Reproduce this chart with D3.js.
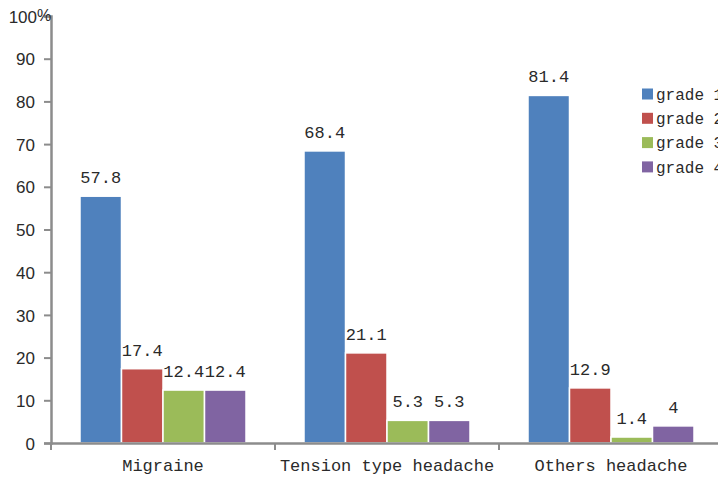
<!DOCTYPE html>
<html>
<head>
<meta charset="utf-8">
<script src="https://cdn.jsdelivr.net/npm/d3@7"></script>
<style>
  html, body { margin: 0; padding: 0; background: #fff; }
  svg { display: block; }
</style>
</head>
<body>
<svg id="chart" width="718" height="478"></svg>
<script>
// Headache types and grade shares (%)
const categories = ["Migraine", "Tension type headache", "Others headache"];
const grades = ["grade 1", "grade 2", "grade 3", "grade 4"];
const grade1 = [57.8, 68.4, 81.4];
const grade2 = [17.4, 21.1, 12.9];
const grade3 = [12.4, 5.3, 1.4];
const grade4 = [12.4, 5.3, 4];
const yTicks = [0, 10, 20, 30, 40, 50, 60, 70, 80, 90, 100];
const colors = ["#4F81BD", "#C0504D", "#9BBB59", "#8064A2"];

const series = [grade1, grade2, grade3, grade4];
const rows = categories.map((c, i) => ({
  category: c,
  values: grades.map((g, j) => ({ grade: g, value: series[j][i], idx: j }))
}));

const svg = d3.select("#chart");
const monoFont = "'Liberation Mono', 'DejaVu Sans Mono', monospace";
const sansFont = "'Liberation Sans', Arial, sans-serif";
const textColor = "#2a2a2a";

const x0 = d3.scaleBand().domain(categories).range([51, 723]).paddingInner(0).paddingOuter(0);
const x1 = d3.scaleBand().domain(grades).range([29, x0.bandwidth() - 29]).padding(0);
const y = d3.scaleLinear().domain([0, 100]).range([443, 16]);

// Bars
const groups = svg.selectAll("g.group").data(rows).join("g")
  .attr("class", "group")
  .attr("transform", d => `translate(${x0(d.category)},0)`);

groups.selectAll("rect").data(d => d.values).join("rect")
  .attr("x", d => x1(d.grade))
  .attr("y", d => y(d.value))
  .attr("width", x1.bandwidth())
  .attr("height", d => y(0) - y(d.value))
  .attr("fill", d => colors[d.idx])
  .attr("stroke", "#fff")
  .attr("stroke-width", 1.5);

// Value labels
groups.selectAll("text.val").data(d => d.values).join("text")
  .attr("class", "val")
  .attr("x", d => x1(d.grade) + x1.bandwidth() / 2)
  .attr("y", d => y(d.value) - 13)
  .attr("text-anchor", "middle")
  .attr("font-family", monoFont)
  .attr("font-size", 17)
  .attr("fill", textColor)
  .text(d => d.value);

// Y axis
const yAxis = d3.axisLeft(y).tickValues(yTicks).tickSize(7).tickPadding(9)
  .tickFormat(d => d);
const yg = svg.append("g").attr("transform", "translate(51,0)").call(yAxis);
yg.select(".domain").attr("stroke", "#8c8c8c").attr("stroke-width", 2.5);
yg.selectAll(".tick line").attr("stroke", "#8c8c8c").attr("stroke-width", 2);
yg.selectAll(".tick text")
  .attr("font-family", sansFont)
  .attr("font-size", 17)
  .attr("fill", textColor)
  .attr("dy", "0.36em");
yg.selectAll(".tick").filter(d => d === 100).select("text").attr("dx", 2);
svg.append("text")
  .attr("x", 37)
  .attr("y", y(100) + 5)
  .attr("font-family", sansFont)
  .attr("font-size", 16)
  .attr("fill", textColor)
  .text("%");

// X axis
const xAxis = d3.axisBottom(x0).tickSize(0).tickPadding(16);
const xg = svg.append("g").attr("transform", `translate(0,${y(0)})`).call(xAxis);
xg.select(".domain").attr("stroke", "#8c8c8c").attr("stroke-width", 2.5);
xg.selectAll(".tick text")
  .attr("font-family", monoFont)
  .attr("font-size", 17)
  .attr("fill", textColor)
  .attr("dy", "0.71em");
// group boundary ticks
const bounds = categories.map(c => x0(c)).concat([x0.range()[1]]);
xg.selectAll("line.bound").data(bounds).join("line")
  .attr("class", "bound")
  .attr("x1", d => d).attr("x2", d => d)
  .attr("y1", 0).attr("y2", 7)
  .attr("stroke", "#8c8c8c").attr("stroke-width", 2);

// Legend (runs past the right edge of the canvas)
const legend = svg.append("g").attr("transform", "translate(642,94)");
const items = legend.selectAll("g").data(grades).join("g")
  .attr("transform", (d, i) => `translate(0,${i * 24.3})`);
items.append("rect")
  .attr("x", 0).attr("y", -5.5)
  .attr("width", 11).attr("height", 11)
  .attr("fill", (d, i) => colors[i]);
items.append("text")
  .attr("x", 14).attr("y", 0)
  .attr("dy", "0.36em")
  .attr("font-family", monoFont)
  .attr("font-size", 16)
  .attr("fill", textColor)
  .text(d => d);
</script>
</body>
</html>
